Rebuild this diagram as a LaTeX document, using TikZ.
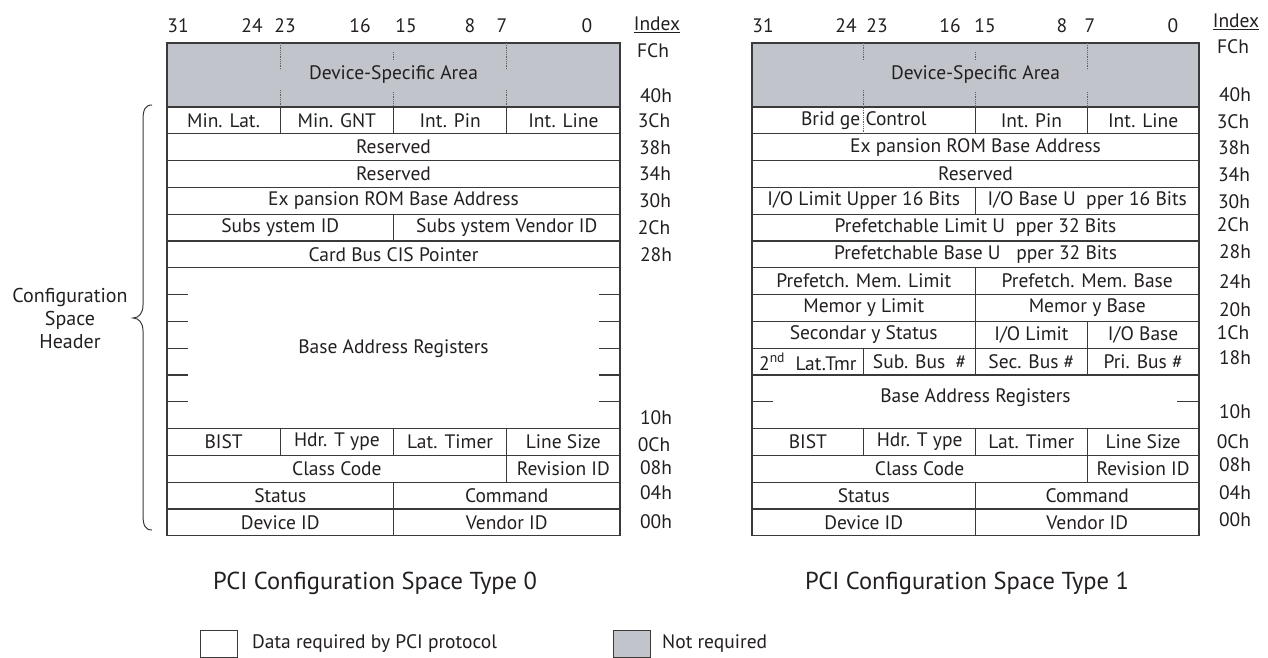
\documentclass[tikz,border=0pt]{standalone}
\usepackage{fontspec}
\setmainfont{PT Sans}
\definecolor{linec}{HTML}{3A3A3A}
\definecolor{txt}{HTML}{231F20}
\definecolor{grayfill}{HTML}{C1C4CA}
\newcommand\cellfont{\fontsize{19.5}{21}\selectfont}
\newcommand\idxfont{\fontsize{19.5}{21}\selectfont}
\newcommand\ttlfont{\fontsize{24.5}{27}\selectfont}
\newcommand\lgdfont{\fontsize{19.5}{21}\selectfont}
\begin{document}
\begin{tikzpicture}[x=1pt,y=-1pt,
  cell/.style={draw=linec, line width=1.3pt, inner sep=0pt, outer sep=0pt,
    anchor=north west, minimum height=26.8pt, font=\cellfont, text=txt},
  qa/.style={minimum width=113.25pt}, ha/.style={minimum width=226.5pt},
  ta/.style={minimum width=339.75pt}, fa/.style={minimum width=453pt},
  qb/.style={minimum width=111.75pt}, hb/.style={minimum width=223.5pt},
  tb/.style={minimum width=335.25pt}, fb/.style={minimum width=447pt},
  graycell/.style={cell, fill=grayfill, minimum height=64pt},
  dots/.style={densely dotted, line width=0.8pt, draw=linec!80},
  tick/.style={line width=1.3pt, draw=linec},
  bits/.style={font=\idxfont, text=txt, inner sep=0pt},
  idx/.style={font=\idxfont, text=txt, inner sep=0pt},
  ttl/.style={font=\ttlfont, text=txt, inner sep=0pt},
  lgd/.style={font=\lgdfont, text=txt, inner sep=0pt, anchor=west},
  lgdbox/.style={draw=linec, line width=1pt, minimum width=37pt, minimum height=27pt, inner sep=0pt, anchor=north west},
  brace/.style={draw=linec, line width=1pt}
]
\useasboundingbox (0,0) rectangle (1268,658);

% ================= LEFT TABLE (Type 0) =================
\node[graycell, fa] (dsaA) at (167,43) {Device-Specific Area};
\draw[dots] (280.25,43) -- (280.25,70) (280.25,90) -- (280.25,107);
\draw[dots] (393.5,52) -- (393.5,60) (393.5,92) -- (393.5,107);
\draw[dots] (506.75,43) -- (506.75,70) (506.75,90) -- (506.75,107);

\node[cell,qa] (minlat) at (167,107) {Min. Lat.};
\node[cell,qa] (mingnt) at (280.25,107) {Min. GNT};
\node[cell,qa] (intpinA) at (393.5,107) {Int. Pin};
\node[cell,qa] (intlineA) at (506.75,107) {Int. Line};
\node[cell,fa] (resA1) at (167,133.8) {Reserved};
\node[cell,fa] (resA2) at (167,160.6) {Reserved};
\node[cell,fa] (romA) at (167,187.4) {Ex pansion ROM Base Address};
\node[cell,ha] (subid) at (167,214.2) {Subs ystem ID};
\node[cell,ha] (subvid) at (393.5,214.2) {Subs ystem Vendor ID};
\node[cell,fa] (cis) at (167,241) {Card Bus CIS Pointer};
\node[cell,fa,minimum height=160.8pt] (barA) at (167,267.8) {Base Address Registers};
\foreach \yy in {294.6,321.4,348.2,375,401.8}{
  \draw[tick] (167,\yy) -- (188,\yy);
  \draw[tick] (599,\yy) -- (620,\yy);
}
\node[cell,qa] (bistA) at (167,428.6) {BIST};
\node[cell,qa] (hdrA) at (280.25,428.6) {Hdr. T ype};
\node[cell,qa] (latA) at (393.5,428.6) {Lat. Timer};
\node[cell,qa] (lineA) at (506.75,428.6) {Line Size};
\node[cell,ta] (classA) at (167,455.4) {Class Code};
\node[cell,qa] (revA) at (506.75,455.4) {Revision ID};
\node[cell,ha] (statA) at (167,482.2) {Status};
\node[cell,ha] (cmdA) at (393.5,482.2) {Command};
\node[cell,ha] (devA) at (167,509) {Device ID};
\node[cell,ha] (venA) at (393.5,509) {Vendor ID};

% bit numbers left
\node[bits] (a31) at (178,26) {31};
\node[bits] (a24) at (252,26) {24};
\node[bits] (a23) at (285,26) {23};
\node[bits] (a16) at (360,26) {16};
\node[bits] (a15) at (406,26) {15};
\node[bits] (a8) at (470,26) {8};
\node[bits] (a7) at (502,26) {7};
\node[bits] (a0) at (587,26) {0};

% index left
\node[idx] (ixA) at (657,25) {\underline{Index}};
\node[idx] (iAFC) at (653,51) {FCh};
\node[idx] (iA40) at (656,96) {40h};
\node[idx] (iA3C) at (654,121) {3Ch};
\node[idx] (iA38) at (655,147.2) {38h};
\node[idx] (iA34) at (655,174) {34h};
\node[idx] (iA30) at (655,200.8) {30h};
\node[idx] (iA2C) at (654,227.6) {2Ch};
\node[idx] (iA28) at (656,254.4) {28h};
\node[idx] (iA10) at (656,418) {10h};
\node[idx] (iA0C) at (654,445) {0Ch};
\node[idx] (iA08) at (656,468) {08h};
\node[idx] (iA04) at (656,493) {04h};
\node[idx] (iA00) at (656,522) {00h};

% brace
\draw[brace] (152,105) .. controls (145,105) and (143,110) .. (143,120) -- (143,305)
  .. controls (143,313) and (139,318) .. (133,318)
  .. controls (139,318) and (143,323) .. (143,331) -- (143,515)
  .. controls (143,525) and (145,530) .. (152,530);
\node[idx, align=center, font=\fontsize{20}{23}\selectfont] (cfgh) at (70,318) {Configuration\\Space\\Header};

\node[ttl] (ttlA) at (375,583) {PCI Configuration Space Type 0};

% ================= RIGHT TABLE (Type 1) =================
\node[graycell, fb] (dsaB) at (752,43) {Device-Specific Area};

\node[cell,hb] (bridge) at (752,107) {Brid ge Control};
\node[cell,qb] (intpinB) at (975.5,107) {Int. Pin};
\node[cell,qb] (intlineB) at (1087.25,107) {Int. Line};
\node[cell,fb] (romB) at (752,133.8) {Ex pansion ROM Base Address};
\node[cell,fb] (resB) at (752,160.6) {Reserved};
\node[cell,hb] (iolu) at (752,187.4) {I/O Limit Upper 16 Bits};
\node[cell,hb] (iobu) at (975.5,187.4) {I/O Base U\ \ pper 16 Bits};
\node[cell,fb] (pflu) at (752,214.2) {Prefetchable Limit U\ \ pper 32 Bits};
\node[cell,fb] (pfbu) at (752,241) {Prefetchable Base U\ \ \ pper 32 Bits};
\node[cell,hb] (pml) at (752,267.8) {Prefetch. Mem. Limit};
\node[cell,hb] (pmb) at (975.5,267.8) {Prefetch. Mem. Base};
\node[cell,hb] (meml) at (752,294.6) {Memor y Limit};
\node[cell,hb] (memb) at (975.5,294.6) {Memor y Base};
\node[cell,hb] (secst) at (752,321.4) {Secondar y Status};
\node[cell,qb] (iol) at (975.5,321.4) {I/O Limit};
\node[cell,qb] (iob) at (1087.25,321.4) {I/O Base};
\node[cell,qb] (lat2) at (752,348.2) {2\textsuperscript{nd}\ \ Lat.Tmr};
\node[cell,qb] (subbus) at (863.75,348.2) {Sub. Bus\ \ \#};
\node[cell,qb] (secbus) at (975.5,348.2) {Sec. Bus \#};
\node[cell,qb] (pribus) at (1087.25,348.2) {Pri. Bus \#};
\node[cell,fb,minimum height=53.6pt] (barB) at (752,375) {};
\node[idx] (barBt) at (975.5,398) {Base Address Registers};
\draw[tick] (752,401.8) -- (773,401.8);
\draw[tick] (1177,401.8) -- (1199,401.8);
\node[cell,qb] (bistB) at (752,428.6) {BIST};
\node[cell,qb] (hdrB) at (863.75,428.6) {Hdr. T ype};
\node[cell,qb] (latB) at (975.5,428.6) {Lat. Timer};
\node[cell,qb] (lineB) at (1087.25,428.6) {Line Size};
\node[cell,tb] (classB) at (752,455.4) {Class Code};
\node[cell,qb] (revB) at (1087.25,455.4) {Revision ID};
\node[cell,hb] (statB) at (752,482.2) {Status};
\node[cell,hb] (cmdB) at (975.5,482.2) {Command};
\node[cell,hb] (devB) at (752,509) {Device ID};
\node[cell,hb] (venB) at (975.5,509) {Vendor ID};

\draw[dots] (863.75,43) -- (863.75,60) (863.75,90) -- (863.75,133.8);
\draw[dots] (975.5,52) -- (975.5,60) (975.5,92) -- (975.5,107);
\draw[dots] (1087.25,43) -- (1087.25,70) (1087.25,92) -- (1087.25,107);

% bit numbers right
\node[bits] (b31) at (763,26) {31};
\node[bits] (b24) at (846,26) {24};
\node[bits] (b23) at (877,26) {23};
\node[bits] (b16) at (950,26) {16};
\node[bits] (b15) at (985,26) {15};
\node[bits] (b8) at (1062,26) {8};
\node[bits] (b7) at (1090,26) {7};
\node[bits] (b0) at (1173,26) {0};

% index right
\node[idx] (ixB) at (1236,22) {\underline{Index}};
\node[idx] (iBFC) at (1233,47) {FCh};
\node[idx] (iB40) at (1235,95) {40h};
\node[idx] (iB3C) at (1233,122) {3Ch};
\node[idx] (iB38) at (1234,148) {38h};
\node[idx] (iB34) at (1234,175) {34h};
\node[idx] (iB30) at (1234,202) {30h};
\node[idx] (iB2C) at (1233,225) {2Ch};
\node[idx] (iB28) at (1235,252) {28h};
\node[idx] (iB24) at (1235,282) {24h};
\node[idx] (iB20) at (1235,310) {20h};
\node[idx] (iB1C) at (1233,333) {1Ch};
\node[idx] (iB18) at (1235,358) {18h};
\node[idx] (iB10) at (1235,412) {10h};
\node[idx] (iB0C) at (1233,442) {0Ch};
\node[idx] (iB08) at (1235,465) {08h};
\node[idx] (iB04) at (1235,493) {04h};
\node[idx] (iB00) at (1235,520) {00h};

\node[ttl] (ttlB) at (967,583) {PCI Configuration Space Type 1};

% ================= LEGEND =================
\node[lgdbox] (lgw) at (200,630) {};
\node[lgd] (lgwt) at (252,644) {Data required by PCI protocol};
\node[lgdbox, fill=grayfill] (lgg) at (613,630) {};
\node[lgd] (lggt) at (662,644) {Not required};
\end{tikzpicture}
\end{document}
